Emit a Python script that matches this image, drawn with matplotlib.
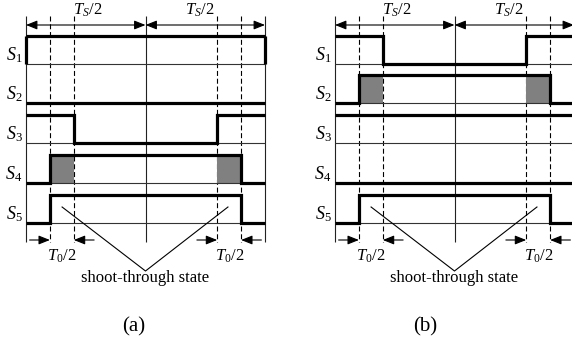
import matplotlib
matplotlib.use("Agg")
import matplotlib.pyplot as plt
import numpy as np

plt.rcParams['font.family'] = ['Liberation Serif', 'DejaVu Serif']
plt.rcParams['mathtext.fontset'] = 'custom'
plt.rcParams['mathtext.rm'] = 'Liberation Serif'
plt.rcParams['mathtext.it'] = 'Liberation Serif:italic'

# ---------------- data ----------------
# segment boundaries, in units of the switching period Ts
t_edges = [0.0, 0.1, 0.2, 0.8, 0.9, 1.0]
dashed_times = [0.1, 0.2, 0.8, 0.9]
solid_times = [0.0, 0.5, 1.0]
signal_labels = [r"$S_1$", r"$S_2$", r"$S_3$", r"$S_4$", r"$S_5$"]

# switch states per segment, panel (a)
a_s1 = [1, 1, 1, 1, 1]
a_s2 = [0, 0, 0, 0, 0]
a_s3 = [1, 1, 0, 1, 1]
a_s4 = [0, 1, 1, 1, 0]
a_s5 = [0, 1, 1, 1, 0]
# switch states per segment, panel (b)
b_s1 = [1, 1, 0, 1, 1]
b_s2 = [0, 1, 1, 1, 0]
b_s3 = [1, 1, 1, 1, 1]
b_s4 = [0, 0, 0, 0, 0]
b_s5 = [0, 1, 1, 1, 0]

shoot_segments = [1, 3]          # segments that are shoot-through intervals
shaded_row_a = 3                 # S4
shaded_row_b = 1                 # S2
top_labels = [r"$T_S/2$", r"$T_S/2$"]
top_label_t = [0.26, 0.725]
bottom_label = r"$T_0/2$"
bottom_label_t = [0.148, 0.852]
panel_names = ["(a)", "(b)"]

# ---------------- layout ----------------
W, H = 572, 343
fig = plt.figure(figsize=(W / 100, H / 100), dpi=100)
px_per_t = 239.0
row_low = [64, 103, 143, 183, 223]
row_h = 28
thick = 2.3
thin = 0.8
ahead = '-|>,head_length=0.45,head_width=0.18'
ahead2 = '<|-|>,head_length=0.45,head_width=0.18'


def draw_panel(ax_x0_px, left_px, states, shaded_row, edge_verticals):
    ax = fig.add_axes([ax_x0_px / W, 0, 0.5, 1])
    ax.set_xlim((ax_x0_px - left_px) / px_per_t, (ax_x0_px + W / 2 - left_px) / px_per_t)
    ax.set_ylim(H, 0)
    ax.axis('off')

    # grid verticals
    ax.vlines(solid_times, 16, 242, colors='#222222', lw=thin, zorder=1)
    ax.vlines(dashed_times, 16, 242, colors='black', lw=thin,
              linestyles=(0, (4.5, 2.5)), zorder=1)

    # top dimension arrows
    for a0, a1 in [(0.0, 0.5), (0.5, 1.0)]:
        ax.annotate('', xy=(a1, 25), xytext=(a0, 25),
                    arrowprops=dict(arrowstyle=ahead2, color='black', lw=thin,
                                    mutation_scale=15, shrinkA=0, shrinkB=0),
                    annotation_clip=False)
    for lbl, tx in zip(top_labels, top_label_t):
        ax.text(tx, 10, lbl, fontsize=12, ha='center', va='center')

    for i, st in enumerate(states):
        low = row_low[i]
        ys = [low - row_h * v for v in st]
        ax.hlines(low, 0, 1, colors='#333333', lw=thin, zorder=2)
        if i == shaded_row:
            for s in shoot_segments:
                ax.fill_between([t_edges[s], t_edges[s + 1]], low, low - row_h,
                                color='#808080', lw=0, zorder=1.5)
        ax.stairs(ys, t_edges, baseline=None, color='black', lw=thick, zorder=3)
        if edge_verticals and all(v == 1 for v in st):
            ax.vlines([0, 1], low - row_h, low, colors='black', lw=thick, zorder=3)
        ax.text(-0.015, low - 4, signal_labels[i], fontsize=13, ha='right',
                va='baseline')

    # bottom T0/2 arrows
    for (d0, d1) in [(0.1, 0.2), (0.8, 0.9)]:
        ax.annotate('', xy=(d0, 240), xytext=(d0 - 0.085, 240),
                    arrowprops=dict(arrowstyle=ahead, color='black', lw=thin,
                                    mutation_scale=15, shrinkA=0, shrinkB=0))
        ax.annotate('', xy=(d1, 240), xytext=(d1 + 0.085, 240),
                    arrowprops=dict(arrowstyle=ahead, color='black', lw=thin,
                                    mutation_scale=15, shrinkA=0, shrinkB=0))
    for tx in bottom_label_t:
        ax.text(tx, 256, bottom_label, fontsize=12, ha='center', va='center')

    # shoot-through V pointer
    ax.plot([0.151, 0.5, 0.845], [207, 271, 207], color='black', lw=thin)
    ax.text(0.5, 278, 'shoot-through state', fontsize=12, ha='center', va='center')
    return ax


draw_panel(0, 26, [a_s1, a_s2, a_s3, a_s4, a_s5], shaded_row_a, True)
draw_panel(286, 335, [b_s1, b_s2, b_s3, b_s4, b_s5], shaded_row_b, False)

fig.text(134 / W, 1 - 327 / H, panel_names[0], fontsize=15, ha='center', va='center')
fig.text(425 / W, 1 - 327 / H, panel_names[1], fontsize=15, ha='center', va='center')

fig.savefig("out.png", dpi=100)
